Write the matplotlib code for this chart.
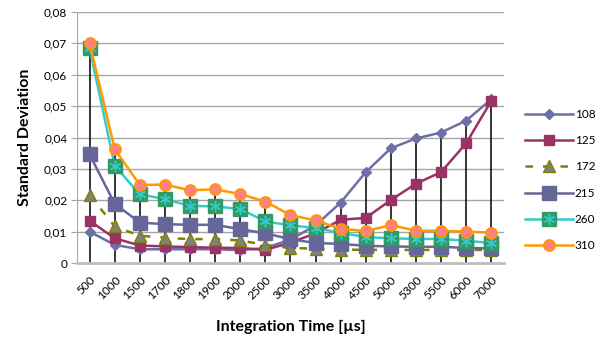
import matplotlib
matplotlib.use("Agg")
import matplotlib.pyplot as plt
from matplotlib.legend_handler import HandlerTuple
from matplotlib.ticker import FuncFormatter
import numpy as np

plt.rcParams['font.family'] = ['Lato', 'DejaVu Sans']

# Integration times (categories on the x axis)
times = ['500', '1000', '1500', '1700', '1800', '1900', '2000', '2500', '3000',
         '3500', '4000', '4500', '5000', '5300', '5500', '6000', '7000']

# Standard deviation per series
s108 = [0.0100, 0.0058, 0.0044, 0.0044, 0.0044, 0.0044, 0.0041, 0.0048, 0.0075,
        0.0120, 0.0193, 0.0290, 0.0366, 0.0397, 0.0416, 0.0454, 0.0522]
s125 = [0.0135, 0.0079, 0.0056, 0.0053, 0.0051, 0.0049, 0.0048, 0.0042, 0.0065,
        0.0095, 0.0138, 0.0144, 0.0201, 0.0253, 0.0290, 0.0382, 0.0517]
s172 = [0.0217, 0.0117, 0.0087, 0.0081, 0.0076, 0.0077, 0.0072, 0.0058, 0.0048,
        0.0046, 0.0043, 0.0042, 0.0042, 0.0042, 0.0042, 0.0042, 0.0042]
s215 = [0.0346, 0.0189, 0.0129, 0.0124, 0.0122, 0.0122, 0.0108, 0.0095, 0.0076,
        0.0064, 0.0061, 0.0055, 0.0053, 0.0052, 0.0052, 0.0048, 0.0047]
s260 = [0.0685, 0.0310, 0.0219, 0.0204, 0.0182, 0.0181, 0.0172, 0.0133, 0.0120,
        0.0112, 0.0096, 0.0083, 0.0079, 0.0077, 0.0077, 0.0071, 0.0064]
s310 = [0.0701, 0.0363, 0.0249, 0.0250, 0.0232, 0.0235, 0.0220, 0.0196, 0.0153,
        0.0136, 0.0109, 0.0102, 0.0121, 0.0103, 0.0103, 0.0100, 0.0097]

x = np.arange(len(times))

fig = plt.figure(figsize=(6.02, 3.43), dpi=100)
ax = fig.add_axes([0.128, 0.233, 0.709, 0.732])

# drop lines from the highest point down to the axis
top = np.max([s108, s125, s172, s215, s260, s310], axis=0)
ax.vlines(x, 0, top, color='black', lw=1.1, zorder=2)

ax.plot(x, s108, color='#6E6EA8', lw=1.8, marker='D', ms=5.5,
        mfc='#6E6EA8', mec='#6E6EA8', zorder=3, label='108')
ax.plot(x, s125, color='#993366', lw=1.8, marker='s', ms=7,
        mfc='#993366', mec='#993366', zorder=3, label='125')
ax.plot(x, s172, color='#808000', lw=1.8, ls=(0, (3, 4)), marker='^', ms=8,
        mfc='#808080', mec='#808000', zorder=3, label='172')
ax.plot(x, s215, color='#666699', lw=1.8, marker='s', ms=10,
        mfc='#666699', mec='#666699', zorder=3, label='215')
l260, = ax.plot(x, s260, color='#33CCCC', lw=1.8, marker='s', ms=9.5,
                mfc='#339966', mec='#339966', zorder=3)
st260, = ax.plot(x, s260, ls='none', marker=(6, 2, 0), ms=8,
                 mec='#33CCCC', mew=1.0, zorder=3)
ax.plot(x, s310, color='#FF9900', lw=1.8, marker='o', ms=8,
        mfc='#FF8080', mec='#FF9900', mew=1.2, zorder=3, label='310')

ax.set_xlim(-0.5, len(times) - 0.5)
ax.set_ylim(0, 0.08)
ax.set_yticks(np.arange(0, 0.081, 0.01))
ax.yaxis.set_major_formatter(FuncFormatter(
    lambda v, p: '0' if v == 0 else f'{v:.2f}'.replace('.', ',')))
ax.grid(axis='y', color='#A6A6A6', lw=1)
ax.set_axisbelow(True)

ax.set_xticks(x)
ax.set_xticklabels(times, rotation=45, ha='right', rotation_mode='anchor')
ax.tick_params(axis='x', length=0, labelsize=8.5, pad=8)
ax.tick_params(axis='y', length=4, color='#A6A6A6', labelsize=8.5, pad=3)

for side in ['top', 'right']:
    ax.spines[side].set_visible(False)
ax.spines['left'].set_color('#A6A6A6')
ax.spines['bottom'].set_color('#BFBFBF')
ax.spines['bottom'].set_linewidth(2)

ax.set_xlabel('Integration Time [µs]', fontsize=11.5, fontweight='bold', labelpad=13)
ax.set_ylabel('Standard Deviation', fontsize=11.5, fontweight='bold', labelpad=9)

h, lab = ax.get_legend_handles_labels()
h.insert(4, (l260, st260))
lab.insert(4, '260')
fig.legend(h, lab, loc='center left', bbox_to_anchor=(0.855, 0.475), frameon=False,
           fontsize=8.5, handlelength=4.0, labelspacing=1.3, handletextpad=0.2,
           handler_map={tuple: HandlerTuple(ndivide=1)})

fig.savefig('out.png', dpi=100)
